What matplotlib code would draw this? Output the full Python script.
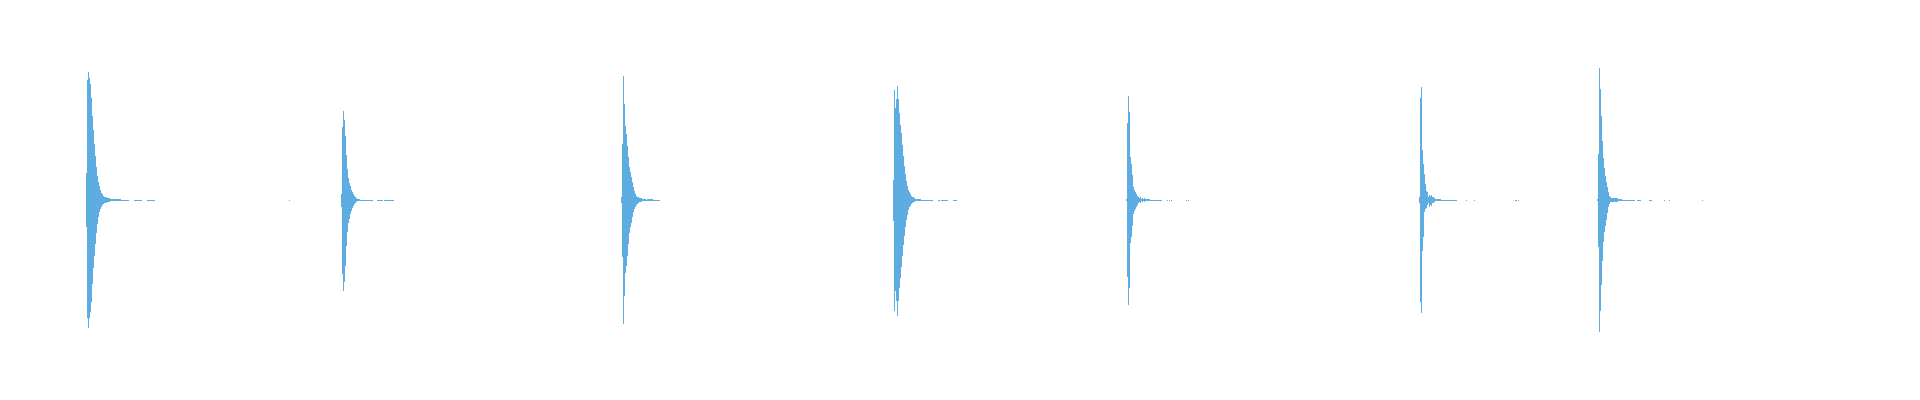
import matplotlib
matplotlib.use("Agg")
import matplotlib.pyplot as plt

# ---- data: waveform envelope (sample-bucket index, amplitude in [-1, 1]) ----
hit_onsets = [86, 341, 621, 893, 1126, 1419, 1597]

hit1_top = [0.135, 0.60, 0.64, 0.61, 0.58, 0.51, 0.42, 0.35, 0.28, 0.22, 0.165, 0.12,
            0.09, 0.07, 0.05, 0.035, 0.03, 0.02, 0.015, 0.014, 0.014, 0.011, 0.011, 0.011,
            0.006, 0.006, 0.006, 0.006, 0.006, 0.003, 0.003, 0.003, 0.003, 0.003, 0.003]
hit1_bot = [-0.135, -0.59, -0.64, -0.59, -0.56, -0.51, -0.42, -0.34, -0.28, -0.22, -0.165, -0.12,
            -0.085, -0.06, -0.045, -0.033, -0.023, -0.018, -0.015, -0.013, -0.013, -0.01, -0.01, -0.01,
            -0.006, -0.006, -0.006, -0.006, -0.006, -0.003, -0.003, -0.003, -0.003, -0.003, -0.003]

hit2_top = [0.03, 0.365, 0.445, 0.40, 0.32, 0.225, 0.155, 0.11, 0.085, 0.068, 0.05, 0.04,
            0.028, 0.02, 0.013, 0.008, 0.005, 0.005, 0.005]
hit2_bot = [-0.033, -0.37, -0.455, -0.41, -0.33, -0.23, -0.16, -0.113, -0.093, -0.072, -0.055, -0.042,
            -0.03, -0.022, -0.015, -0.01, -0.0066, -0.0066, -0.0066]

hit3_top = [0.013, 0.28, 0.62, 0.48, 0.37, 0.33, 0.27, 0.217, 0.167, 0.14, 0.117, 0.088,
            0.063, 0.047, 0.03, 0.022, 0.017, 0.013, 0.01, 0.01, 0.01, 0.007, 0.007, 0.007, 0.007]
hit3_bot = [-0.015, -0.283, -0.62, -0.48, -0.365, -0.33, -0.28, -0.22, -0.167, -0.137, -0.115, -0.087,
            -0.062, -0.047, -0.033, -0.023, -0.02, -0.017, -0.012, -0.012, -0.012, -0.007, -0.007, -0.007, -0.007]

hit4_top = [0.10, 0.55, 0.46, 0.505, 0.57, 0.505, 0.433, 0.377, 0.335, 0.277, 0.222, 0.172,
            0.13, 0.097, 0.072, 0.05, 0.038, 0.03, 0.022, 0.017, 0.013, 0.01, 0.007, 0.007,
            0.007, 0.005, 0.005, 0.005]
hit4_bot = [-0.103, -0.557, -0.457, -0.507, -0.578, -0.507, -0.44, -0.39, -0.337, -0.278, -0.223, -0.178,
            -0.137, -0.098, -0.073, -0.05, -0.037, -0.028, -0.02, -0.017, -0.012, -0.01, -0.007, -0.007,
            -0.007, -0.005, -0.005, -0.005]

hit5_top = [0.005, 0.383, 0.52, 0.44, 0.213, 0.18, 0.127, 0.067, 0.052, 0.042, 0.03, 0.022,
            0.017, 0.01, 0.013, 0.007, 0.01, 0.005, 0.008, 0.005, 0.005, 0.005, 0.005, 0.005]
hit5_bot = [-0.005, -0.387, -0.523, -0.44, -0.217, -0.183, -0.128, -0.07, -0.053, -0.045, -0.033, -0.023,
            -0.017, -0.012, -0.013, -0.007, -0.01, -0.005, -0.008, -0.005, -0.005, -0.007, -0.007, -0.007]

hit6_top = [0.013, 0.51, 0.563, 0.25, 0.18, 0.13, 0.08, 0.043, 0.038, 0.017, 0.027, 0.02,
            0.027, 0.017, 0.013, 0.01, 0.007, 0.005, 0.005, 0.005, 0.005, 0.005]
hit6_bot = [-0.013, -0.512, -0.567, -0.253, -0.187, -0.062, -0.045, -0.04, -0.023, -0.017, -0.033, -0.023,
            -0.028, -0.017, -0.013, -0.01, -0.007, -0.005, -0.007, -0.007, -0.005, -0.005]

hit7_top = [0.005, 0.23, 0.658, 0.553, 0.42, 0.297, 0.208, 0.158, 0.122, 0.092, 0.067, 0.042,
            0.022, 0.013, 0.008, 0.008, 0.008, 0.008, 0.008, 0.008, 0.008, 0.007, 0.007, 0.007, 0.007]
hit7_bot = [-0.005, -0.237, -0.662, -0.557, -0.423, -0.303, -0.208, -0.162, -0.128, -0.098, -0.065, -0.037,
            -0.02, -0.012, -0.008, -0.008, -0.008, -0.008, -0.008, -0.008, -0.008, -0.007, -0.007, -0.007, -0.007]

hit_tops = [hit1_top, hit2_top, hit3_top, hit4_top, hit5_top, hit6_top, hit7_top]
hit_bots = [hit1_bot, hit2_bot, hit3_bot, hit4_bot, hit5_bot, hit6_bot, hit7_bot]

# low-level noise stretches after each hit: start bucket, end bucket, amplitude
noise_start = [121, 134, 147, 289, 360, 377, 384, 646, 647, 921, 932, 938, 941, 953,
               1150, 1167, 1169, 1171, 1186, 1188, 1441, 1466, 1474, 1515, 1518,
               1622, 1637, 1649, 1664, 1669, 1702]
noise_end = [129, 142, 155, 290, 373, 383, 394, 660, 653, 932, 933, 940, 948, 957,
             1162, 1168, 1170, 1172, 1187, 1189, 1457, 1467, 1475, 1517, 1519,
             1635, 1641, 1652, 1665, 1670, 1703]
noise_amp = [0.0025, 0.0025, 0.0025, 0.0025, 0.0025, 0.0025, 0.0025, 0.0025, 0.006, 0.0025,
             0.0025, 0.0025, 0.0025, 0.0025, 0.0025, 0.0025, 0.0025, 0.0025, 0.0025, 0.0025,
             0.0025, 0.0025, 0.0025, 0.0025, 0.0025, 0.0025, 0.0025, 0.0025, 0.0025, 0.0025, 0.0025]

COLOR = "#5DADE2"

fig = plt.figure(figsize=(19.2, 4), dpi=100)
ax = fig.add_axes([0, 0, 1, 1])
ax.set_xlim(0, 1920)
ax.set_ylim(-1.0, 1.0)
ax.axis("off")

for onset, tops, bots in zip(hit_onsets, hit_tops, hit_bots):
    xs = [onset + i for i in range(len(tops))]
    heights = [t - b for t, b in zip(tops, bots)]
    ax.bar(xs, heights, bottom=bots, width=1.0, align="edge",
           color=COLOR, linewidth=0, antialiased=False)

n_x = noise_start
n_w = [e - s for s, e in zip(noise_start, noise_end)]
n_h = [2 * a for a in noise_amp]
n_b = [-a for a in noise_amp]
ax.bar(n_x, n_h, bottom=n_b, width=n_w, align="edge", color=COLOR,
       linewidth=0, antialiased=False)

fig.savefig("out.png", dpi=100, facecolor="white")
